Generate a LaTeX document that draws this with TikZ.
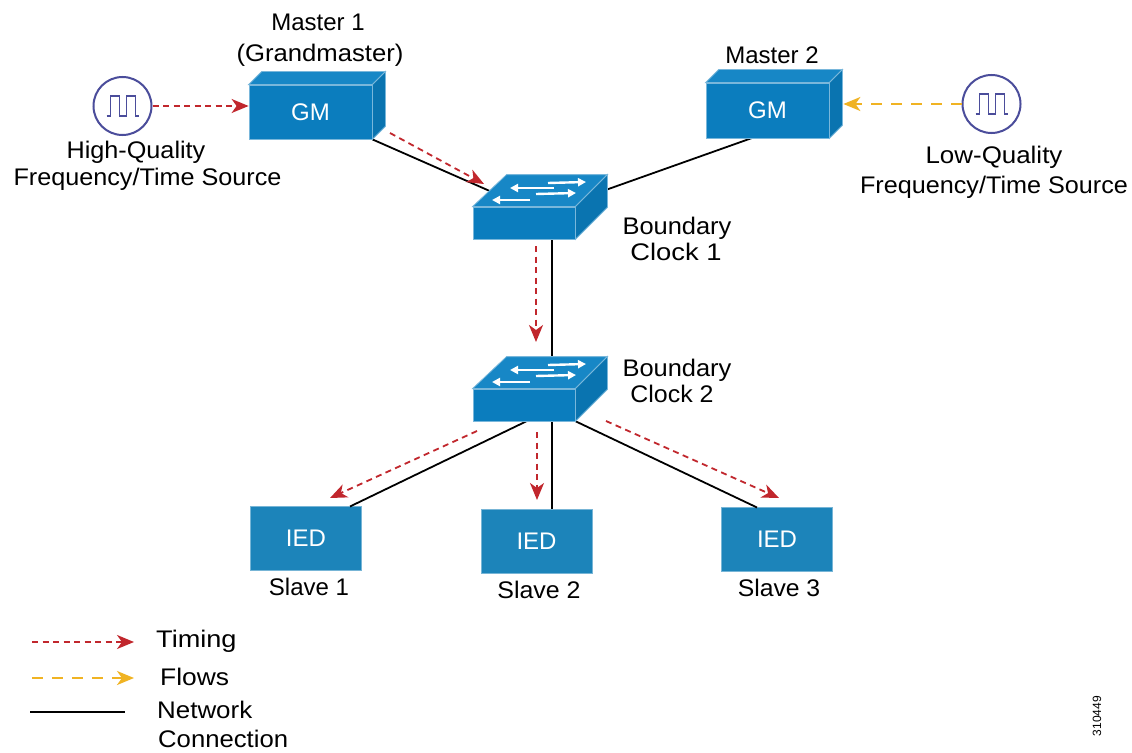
\documentclass[tikz,border=0pt]{standalone}
\usepackage{fontspec}
\setmainfont{Liberation Sans}
\usetikzlibrary{arrows.meta,calc}
\definecolor{ciscoblue}{HTML}{0B7DBE}
\definecolor{topblue}{HTML}{1787C6}
\definecolor{sideblue}{HTML}{0A74B0}
\definecolor{iedblue}{HTML}{1C84BA}
\definecolor{timred}{HTML}{C1272D}
\definecolor{flowyel}{HTML}{F0B323}
\definecolor{clockc}{HTML}{4B4D9B}
\newcommand{\xs}[2]{\scalebox{#1}[1]{#2}}
\begin{document}
\begin{tikzpicture}[x=1pt,y=-1pt,
  lbl/.style={font=\fontsize{24}{26}\selectfont, inner sep=0pt, align=center},
  front/.style={fill=ciscoblue, draw=ciscoblue!55!white, line width=0.8pt, inner sep=0pt, text=white, font=\fontsize{24}{26}\selectfont},
  facetop/.style={fill=topblue, draw=ciscoblue!55!white, line width=0.8pt},
  faceside/.style={fill=sideblue, draw=ciscoblue!55!white, line width=0.8pt},
  iedbox/.style={fill=iedblue, draw=iedblue!60!white, line width=0.8pt, minimum width=111pt, minimum height=64pt, inner sep=0pt, text=white, font=\fontsize{24}{26}\selectfont},
  clockring/.style={circle, draw=clockc, line width=2pt, minimum size=58pt, inner sep=0pt, fill=white},
  timing/.style={draw=timred, line width=1.8pt, dash pattern=on 6pt off 4.5pt, -{Stealth[length=17pt,width=14pt,inset=5pt]}, color=timred},
  flows/.style={draw=flowyel, line width=2pt, dash pattern=on 11pt off 9pt, -{Stealth[length=17pt,width=14pt,inset=5pt]}, color=flowyel},
  netline/.style={draw=black, line width=1.8pt},
  swarrow/.style={white, line width=2.4pt, -{Triangle[length=8pt,width=8pt]}}
]
\useasboundingbox (0,0) rectangle (1132,752);
\fill[white] (0,0) rectangle (1132,752);

% ---------- node placement (front faces) ----------
\node[front, minimum width=123pt, minimum height=54pt] (gm1) at (310.5,112) {};
\node[front, minimum width=123pt, minimum height=55pt] (gm2) at (767.5,110.5) {};
\node[front, minimum width=102pt, minimum height=32pt] (sw1) at (524,223) {};
\node[front, minimum width=102pt, minimum height=32pt] (sw2) at (524,405) {};
\node[iedbox] (ied1) at (306,538.5) {IED};
\node[iedbox] (ied2) at (536.5,541) {IED};
\node[iedbox] (ied3) at (777,539.5) {IED};

% ---------- connector end points ----------
\coordinate (sw1in) at (492,192);
\coordinate (sw1out) at (600,192);
\coordinate (gm2bot) at (752,138);
\coordinate (sw1bot) at (552,239);
\coordinate (sw2top) at (552,372);
\coordinate (sw2a) at (527,421);
\coordinate (sw2b) at (552,421);
\coordinate (sw2c) at (575,421);
\coordinate (ied1t) at (350,506.5);
\coordinate (ied2t) at (552,509);
\coordinate (ied3t) at (757,507.5);

% ---------- network lines (behind devices) ----------
\draw[netline] (gm1.south east) -- (sw1in);
\draw[netline] (gm2bot) -- (sw1out);
\draw[netline] (sw1bot) -- (sw2top);
\draw[netline] (sw2a) -- (ied1t);
\draw[netline] (sw2b) -- (ied2t);
\draw[netline] (sw2c) -- (ied3t);

% ---------- GM boxes ----------
\foreach \b/\d in {gm1/13, gm2/13}{
  \draw[facetop] (\b.north west) -- ($(\b.north west)+(\d,-\d)$) -- ($(\b.north east)+(\d,-\d)$) -- (\b.north east) -- cycle;
  \draw[faceside] (\b.north east) -- ($(\b.north east)+(\d,-\d)$) -- ($(\b.south east)+(\d,-\d)$) -- (\b.south east) -- cycle;
}
\node[front, minimum width=123pt, minimum height=54pt] at (gm1) {GM};
\node[front, minimum width=123pt, minimum height=55pt] at (gm2) {GM};

% ---------- switches ----------
\foreach \s in {sw1, sw2}{
  \draw[facetop] (\s.north west) -- ($(\s.north west)+(34,-32)$) -- ($(\s.north east)+(32,-32)$) -- (\s.north east) -- cycle;
  \draw[faceside] (\s.north east) -- ($(\s.north east)+(32,-32)$) -- ($(\s.south east)+(32,-32)$) -- (\s.south east) -- cycle;
  \draw[swarrow] ($(\s.center)+(24,-40)$) -- ($(\s.center)+(62,-41)$);
  \draw[swarrow] ($(\s.center)+(30,-35)$) -- ($(\s.center)+(-14,-35)$);
  \draw[swarrow] ($(\s.center)+(12,-29)$) -- ($(\s.center)+(52,-30)$);
  \draw[swarrow] ($(\s.center)+(6,-23)$) -- ($(\s.center)+(-32,-23)$);
}
\node[front, minimum width=102pt, minimum height=32pt] at (sw1) {};
\node[front, minimum width=102pt, minimum height=32pt] at (sw2) {};

% ---------- clock sources ----------
\node[clockring] (clk1) at (122.5,106) {};
\node[clockring] (clk2) at (991.5,104) {};
\foreach \c in {clk1, clk2}{
  \draw[clockc, line width=1.6pt, line join=miter]
    ($(\c.center)+(-16,10)$) -- ($(\c.center)+(-12,10)$) -- ($(\c.center)+(-12,-10)$) -- ($(\c.center)+(-3,-10)$)
    -- ($(\c.center)+(-3,10)$) -- ($(\c.center)+(4,10)$) -- ($(\c.center)+(4,-10)$) -- ($(\c.center)+(13,-10)$)
    -- ($(\c.center)+(13,10)$) -- ($(\c.center)+(16,10)$);
}

% ---------- timing / flow arrows ----------
\coordinate (t2s) at (390,133);
\coordinate (t2e) at (484,184);
\coordinate (t3s) at (536,246);
\coordinate (t3e) at (536,342);
\coordinate (t4s) at (477,431);
\coordinate (t4e) at (330,498);
\coordinate (t5s) at (537,432);
\coordinate (t5e) at (537,500);
\coordinate (t6s) at (606,421);
\coordinate (t6e) at (779,498);
\draw[timing] (clk1.east) -- (clk1.east -| gm1.west);
\draw[timing] (t2s) -- (t2e);
\draw[timing] (t3s) -- (t3e);
\draw[timing] (t4s) -- (t4e);
\draw[timing] (t5s) -- (t5e);
\draw[timing] (t6s) -- (t6e);
\draw[flows] (clk2.west) -- ($(clk2.west -| gm2.east)+(14,0)$);

% ---------- labels ----------
\node[lbl] (m1a) at (318,22) {Master 1};
\node[lbl] (m1b) at (320,55) {\xs{1.07}{(Grandmaster)}};
\node[lbl] (m2) at (772,55) {Master 2};
\node[lbl] (hq1) at (136,152) {\xs{1.05}{High-Quality}};
\node[lbl] (hq2) at (147.5,179) {\xs{1.05}{Frequency/Time Source}};
\node[lbl] (lq1) at (994,157) {\xs{1.08}{Low-Quality}};
\node[lbl] (lq2) at (994,187) {\xs{1.05}{Frequency/Time Source}};
\node[lbl] (bc1a) at (677,228) {\xs{1.06}{Boundary}};
\node[lbl] (bc1b) at (676,252) {\xs{1.14}{Clock 1}};
\node[lbl] (bc2a) at (677,370) {\xs{1.06}{Boundary}};
\node[lbl] (bc2b) at (672,394) {\xs{1.04}{Clock 2}};
\node[lbl] (s1) at (309,587) {Slave 1};
\node[lbl] (s2) at (539,590) {\xs{1.04}{Slave 2}};
\node[lbl] (s3) at (779,588) {\xs{1.03}{Slave 3}};

% ---------- legend ----------
\coordinate (lg1a) at (32,642);
\coordinate (lg1b) at (134,642);
\coordinate (lg2a) at (32,678);
\coordinate (lg2b) at (134,678);
\coordinate (lg3a) at (30,712);
\coordinate (lg3b) at (125,712);
\draw[timing] (lg1a) -- (lg1b);
\draw[flows] (lg2a) -- (lg2b);
\draw[netline] (lg3a) -- (lg3b);
\node[lbl, anchor=west] (lgt1) at (156,641) {\xs{1.13}{Timing}};
\node[lbl, anchor=west] (lgt2) at (160,677) {\xs{1.1}{Flows}};
\node[lbl, anchor=west] (lgt3) at (157,710) {\xs{1.08}{Network}};
\node[lbl, anchor=west] (lgt4) at (158,739) {\xs{1.07}{Connection}};

\node[font=\fontsize{12}{14}\selectfont, rotate=90, inner sep=0pt] (fig) at (1097,716) {310449};
\end{tikzpicture}
\end{document}
